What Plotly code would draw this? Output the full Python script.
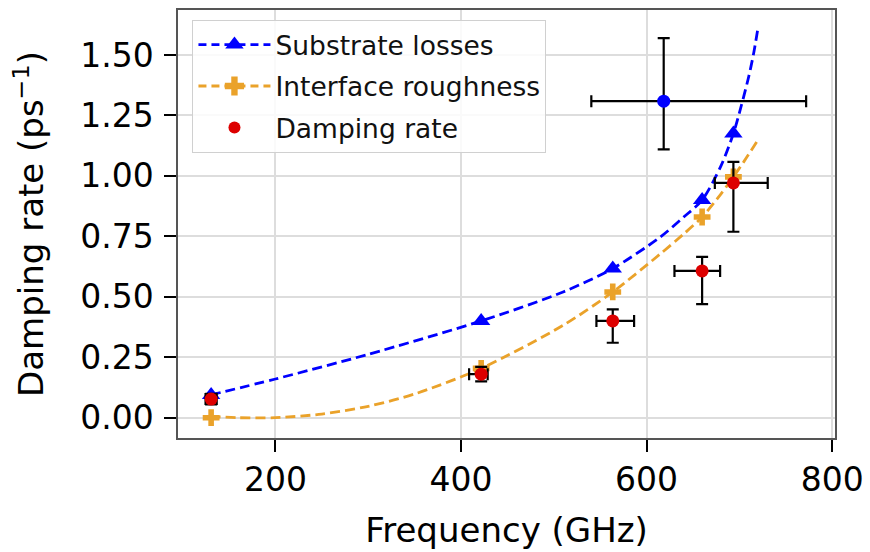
import plotly.graph_objects as go

# Measured points (GHz, ps^-1)
freq_pts = [130.7, 421.7, 563.5, 659.8, 693.5]
substrate_pts = [0.094, 0.40, 0.617, 0.90, 1.175]
roughness_pts = [0.0, 0.204, 0.52, 0.83, 0.996]

# Fit curves
sub_fit_freq = [130, 200, 300, 421.7, 510, 563.5, 614, 640, 659.8, 680, 693.5, 702, 710, 715, 719.7]
sub_fit_val = [0.094, 0.16, 0.262, 0.40, 0.52, 0.617, 0.745, 0.83, 0.90, 1.04, 1.175, 1.29, 1.41, 1.50, 1.605]
rough_fit_freq = [130, 160, 200, 250, 300, 350, 421.7, 510, 563.5, 614, 640, 659.8, 680, 693.5, 705, 719.7]
rough_fit_val = [0.005, 0.0, 0.0, 0.015, 0.047, 0.098, 0.204, 0.382, 0.52, 0.675, 0.76, 0.83, 0.925, 0.996, 1.06, 1.147]

# Damping rate with error bars
damp_freq = [130.7, 421.7, 563.5, 659.8, 693.5]
damp_val = [0.077, 0.18, 0.40, 0.607, 0.971]
damp_xerr_plus = [6, 7, 23, 19.4, 37]
damp_xerr_minus = [6, 13, 17.6, 29.8, 20]
damp_yerr_plus = [0.022, 0.03, 0.048, 0.058, 0.087]
damp_yerr_minus = [0.022, 0.03, 0.09, 0.137, 0.202]

# Extra (blue) point
extra_freq = [618.4]
extra_val = [1.309]
extra_xerr_plus = [153.5]
extra_xerr_minus = [78]
extra_yerr_plus = [0.261]
extra_yerr_minus = [0.199]

x_ticks = [200, 400, 600, 800]
y_ticks = [0, 0.25, 0.5, 0.75, 1.0, 1.25, 1.5]

BLUE = "#0000ff"
ORANGE = "#eaa22a"
RED = "#dd0000"
DASH = "10px,5px"

fig = go.Figure()

# fit curves
fig.add_trace(go.Scatter(x=sub_fit_freq, y=sub_fit_val, mode="lines", line=dict(color=BLUE, width=2.8, dash=DASH, shape="spline", smoothing=0.8), showlegend=False, hoverinfo="skip"))
fig.add_trace(go.Scatter(x=rough_fit_freq, y=rough_fit_val, mode="lines", line=dict(color=ORANGE, width=2.8, dash=DASH, shape="spline", smoothing=0.8), showlegend=False, hoverinfo="skip"))

# markers
fig.add_trace(go.Scatter(x=freq_pts, y=substrate_pts, mode="markers", marker=dict(symbol="triangle-up", size=16, color=BLUE), showlegend=False))
fig.add_trace(go.Scatter(x=freq_pts, y=roughness_pts, mode="markers", marker=dict(symbol="cross", size=14, color=ORANGE, line=dict(width=0)), showlegend=False))

# error bar points
fig.add_trace(go.Scatter(
    x=extra_freq, y=extra_val, mode="markers",
    marker=dict(symbol="circle", size=13, color=BLUE),
    error_x=dict(type="data", symmetric=False, array=extra_xerr_plus, arrayminus=extra_xerr_minus, color="black", thickness=2.2, width=6),
    error_y=dict(type="data", symmetric=False, array=extra_yerr_plus, arrayminus=extra_yerr_minus, color="black", thickness=2.2, width=6),
    showlegend=False))
fig.add_trace(go.Scatter(
    x=damp_freq, y=damp_val, mode="markers",
    marker=dict(symbol="circle", size=13, color=RED),
    error_x=dict(type="data", symmetric=False, array=damp_xerr_plus, arrayminus=damp_xerr_minus, color="black", thickness=2.2, width=6),
    error_y=dict(type="data", symmetric=False, array=damp_yerr_plus, arrayminus=damp_yerr_minus, color="black", thickness=2.2, width=6),
    showlegend=False))

# legend entries
fig.add_trace(go.Scatter(x=[None], y=[None], mode="lines+markers", name="Substrate losses", legendgroup="a",
                         line=dict(color=BLUE, width=2.8, dash="8px,5px"), marker=dict(symbol="triangle-up", size=16, color=BLUE)))
fig.add_trace(go.Scatter(x=[None], y=[None], mode="lines+markers", name="Interface roughness", legendgroup="b",
                         line=dict(color=ORANGE, width=2.8, dash="8px,5px"), marker=dict(symbol="cross", size=16, color=ORANGE)))
fig.add_trace(go.Scatter(x=[None], y=[None], mode="markers", name="Damping rate", legendgroup="c",
                         marker=dict(symbol="circle", size=12, color=RED)))

axis_common = dict(
    showline=True, linecolor="#555555", linewidth=1.5, mirror=True,
    showgrid=True, gridcolor="#dddddd", gridwidth=1.5,
    ticks="outside", ticklen=12, tickwidth=2, tickcolor="black",
    tickfont=dict(size=33, color="black"), zeroline=False, automargin=False,
)

fig.update_layout(
    width=870, height=552,
    margin=dict(l=178, r=35, t=10, b=114),
    paper_bgcolor="white", plot_bgcolor="white",
    font=dict(family="DejaVu Sans", color="black"),
    xaxis=dict(range=[95, 803], tickvals=x_ticks,
               title=dict(text="Frequency (GHz)", font=dict(size=34), standoff=20), **axis_common),
    yaxis=dict(range=[-0.084, 1.686], tickvals=y_ticks, tickformat=".2f", ticklabelstandoff=4,
               title=dict(text="Damping rate (ps<sup>−1</sup>)", font=dict(size=34), standoff=26), **axis_common),
    legend=dict(x=0.022, y=0.977, xanchor="left", yanchor="top",
                bgcolor="rgba(255,255,255,0.85)", bordercolor="#d0d0d0", borderwidth=1,
                font=dict(size=26.5, color="#111111"), itemwidth=72, traceorder="grouped", tracegroupgap=4),
)

fig.write_html("out.html", config={"displayModeBar": False},
               post_script="document.body.style.margin='0px';document.body.style.padding='0px';")
